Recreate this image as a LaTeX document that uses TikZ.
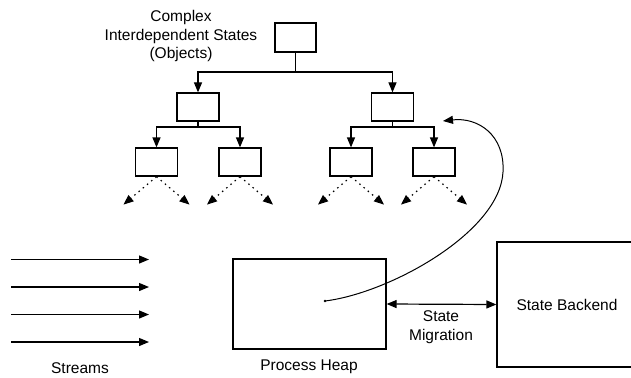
\documentclass[tikz,border=0pt]{standalone}
\usepackage{fontspec}
\setmainfont{Liberation Sans}
\usetikzlibrary{arrows.meta}
\begin{document}
\begin{tikzpicture}[x=1pt,y=-1pt,
  line width=1.2pt,
  box/.style={draw, line width=1.2pt, minimum width=42pt, minimum height=28pt, inner sep=0pt},
  arr/.style={-{Triangle[length=10pt,width=8pt]}},
  dotarr/.style={-{Triangle[length=10pt,width=8pt]}, dash pattern=on 1.5pt off 4pt},
  lbl/.style={font=\fontsize{15.5}{18.5}\selectfont, align=center, inner sep=0pt}
]
\useasboundingbox (0,0) rectangle (631,377);
\clip (0,0) rectangle (631,377);
% tree
\node[box, minimum width=41pt, minimum height=29pt] (top) at (295.5,37.5) {};
\node[box] (mL) at (198,107) {};
\node[box] (mR) at (392.5,107) {};
\node[box] (lL) at (156.5,162) {};
\node[box] (lR) at (240,162) {};
\node[box] (rL) at (351,162) {};
\node[box] (rR) at (434,162) {};
\node[lbl] (title) at (181,36) {Complex\\Interdependent States\\(Objects)};

\coordinate (j0) at (295.5,72);
\draw (top.south) -- (j0);
\draw[arr] (j0) -| (mL.north);
\draw[arr] (j0) -| (mR.north);
\coordinate (j1) at (198,127);
\draw (mL.south) -- (j1);
\draw[arr] (j1) -| (lL.north);
\draw[arr] (j1) -| (lR.north);
\coordinate (j2) at (392.5,127);
\draw (mR.south) -- (j2);
\draw[arr] (j2) -| (rL.north);
\draw[arr] (j2) -| (rR.north);

% dotted children
\foreach \n in {lL,lR,rL,rR}{
  \coordinate (\n a) at ([shift={(-33,28)}]\n.south);
  \coordinate (\n b) at ([shift={(33,28)}]\n.south);
  \draw[dotarr] (\n.south) -- (\n a);
  \draw[dotarr] (\n.south) -- (\n b);
}

% streams
\foreach \i/\y in {1/259.5,2/287,3/314.5,4/342}{
  \coordinate (s\i a) at (11,\y);
  \coordinate (s\i b) at (149,\y);
  \draw[arr] (s\i a) -- (s\i b);
}
\node[lbl] (streams) at (80,368) {Streams};

% heap and backend
\node[draw, line width=1.2pt, minimum width=153pt, minimum height=90pt, inner sep=0pt] (heap) at (309.5,304) {};
\node[lbl] (heaplbl) at (309,367) {Process Heap};
\node[draw, line width=1.2pt, minimum width=140pt, minimum height=125pt, inner sep=0pt, font=\fontsize{15.5}{18.5}\selectfont] (backend) at (567,304.5) {State Backend};
\draw[{Triangle[length=10pt,width=8pt]}-{Triangle[length=10pt,width=8pt]}] (heap.east) -- (backend.west);
\node[lbl] (mig) at (441,327) {State\\Migration};

% curved pointer
\coordinate (cs) at (325,301);
\coordinate (ce) at (443,121);
\draw[line width=0.9pt] (cs) circle (0.8pt);
\draw[arr, line width=1pt] (cs) .. controls (390,293) and (500,232) .. (503,172) .. controls (505,135) and (478,117) .. (ce);
\end{tikzpicture}
\end{document}
